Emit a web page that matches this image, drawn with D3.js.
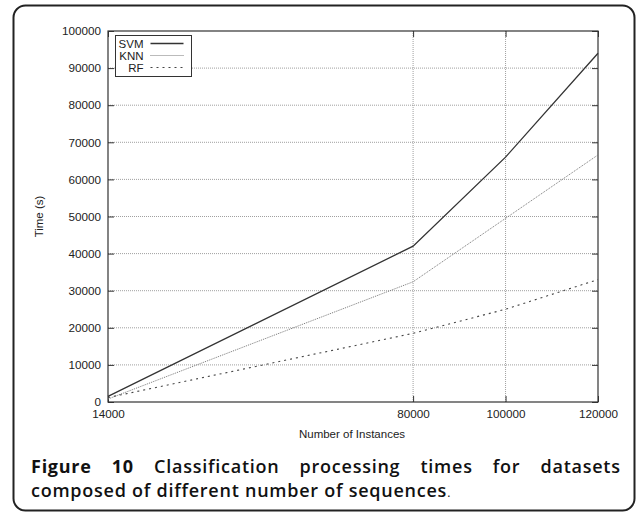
<!DOCTYPE html>
<html>
<head>
<meta charset="utf-8">
<script src="https://cdn.jsdelivr.net/npm/d3@7"></script>
<style>
  body { margin: 0; background: #fff; }
  svg { display: block; }
  .tick text { font-family: "Liberation Sans", Arial, sans-serif; font-size: 11.7px; fill: #222; }
</style>
</head>
<body>
<div id="chart"></div>
<script>
var instances = [14000, 80000, 100000, 120000];
var svmTimes = [1500, 42000, 66000, 94000];
var knnTimes = [800, 32400, 49500, 66600];
var rfTimes = [1200, 18500, 25000, 33000];
var yTicks = [0, 10000, 20000, 30000, 40000, 50000, 60000, 70000, 80000, 90000, 100000];

var svgWidth = 637;
var svgHeight = 514;

var margin = { top: 31, right: 39, bottom: 112, left: 108 };
var width = svgWidth - margin.left - margin.right;
var height = svgHeight - margin.top - margin.bottom;

var svg = d3.select("#chart")
    .append("svg")
    .attr("width", svgWidth)
    .attr("height", svgHeight);

// outer rounded frame
svg.append("rect")
    .attr("x", 13.5).attr("y", 5.5)
    .attr("width", 621).attr("height", 505)
    .attr("rx", 12).attr("ry", 12)
    .attr("fill", "none")
    .attr("stroke", "#222")
    .attr("stroke-width", 2);

var chartGroup = svg.append("g")
    .attr("transform", `translate(${margin.left}, ${margin.top})`);

var xScale = d3.scaleLinear().domain([14000, 120000]).range([0, width]);
var yScale = d3.scaleLinear().domain([0, 100000]).range([height, 0]);

// grid
chartGroup.selectAll(".hgrid")
    .data(yTicks.slice(1, -1))
    .enter().append("line")
    .attr("x1", 0).attr("x2", width)
    .attr("y1", d => yScale(d)).attr("y2", d => yScale(d))
    .attr("stroke", "#888").attr("stroke-width", 0.8)
    .attr("stroke-dasharray", "1,1");

chartGroup.selectAll(".vgrid")
    .data(instances.slice(1, -1))
    .enter().append("line")
    .attr("x1", d => xScale(d)).attr("x2", d => xScale(d))
    .attr("y1", 0).attr("y2", height)
    .attr("stroke", "#888").attr("stroke-width", 0.8)
    .attr("stroke-dasharray", "1,1");

// axes (gnuplot style: inward ticks mirrored on all sides)
var leftAxis = d3.axisLeft(yScale).tickValues(yTicks).tickSizeInner(-6).tickSizeOuter(0).tickPadding(7).tickFormat(d3.format("d"));
var rightAxis = d3.axisRight(yScale).tickValues(yTicks).tickSizeInner(-6).tickSizeOuter(0).tickFormat("");
var bottomAxis = d3.axisBottom(xScale).tickValues(instances).tickSizeInner(-6).tickSizeOuter(0).tickPadding(8).tickFormat(d3.format("d"));
var topAxis = d3.axisTop(xScale).tickValues(instances).tickSizeInner(-6).tickSizeOuter(0).tickFormat("");

chartGroup.append("g").call(leftAxis);
chartGroup.append("g").attr("transform", `translate(${width},0)`).call(rightAxis);
chartGroup.append("g").attr("transform", `translate(0,${height})`).call(bottomAxis);
chartGroup.append("g").call(topAxis);
chartGroup.selectAll(".domain").remove();
chartGroup.selectAll(".tick line").attr("stroke", "#333");

chartGroup.append("rect")
    .attr("width", width).attr("height", height)
    .attr("fill", "none").attr("stroke", "#333").attr("stroke-width", 1.2);

// series
var series = [
    { name: "SVM", values: svmTimes, color: "#333", width: 1.3, dash: null },
    { name: "KNN", values: knnTimes, color: "#777", width: 1, dash: "1,1" },
    { name: "RF", values: rfTimes, color: "#444", width: 1.1, dash: "2,4" }
];

var line = d3.line()
    .x((d, i) => xScale(instances[i]))
    .y(d => yScale(d));

chartGroup.selectAll(".series")
    .data(series)
    .enter().append("path")
    .attr("d", d => line(d.values))
    .attr("fill", "none")
    .attr("stroke", d => d.color)
    .attr("stroke-width", d => d.width)
    .attr("stroke-dasharray", d => d.dash);

// legend
var legend = chartGroup.append("g").attr("transform", "translate(7.5,4.5)");
legend.append("rect")
    .attr("width", 76).attr("height", 41)
    .attr("fill", "#fff").attr("stroke", "#333").attr("stroke-width", 1);

series.forEach(function(s, i) {
    var yy = 8 + i * 12;
    legend.append("text")
        .attr("x", 28).attr("y", yy + 4)
        .attr("text-anchor", "end")
        .attr("font-family", "Liberation Sans, Arial, sans-serif")
        .attr("font-size", 11.5)
        .attr("fill", "#222")
        .text(s.name);
    legend.append("line")
        .attr("x1", 35).attr("x2", 68)
        .attr("y1", yy).attr("y2", yy)
        .attr("stroke", s.color)
        .attr("stroke-width", s.width)
        .attr("stroke-dasharray", s.dash);
});

// axis titles
chartGroup.append("text")
    .attr("transform", `translate(${-69},${height / 2}) rotate(-90)`)
    .attr("text-anchor", "middle")
    .attr("dy", "0.35em")
    .attr("font-family", "Liberation Sans, Arial, sans-serif")
    .attr("font-size", 11.5)
    .attr("fill", "#222")
    .text("Time (s)");

chartGroup.append("text")
    .attr("x", 352 - margin.left).attr("y", height + 36)
    .attr("text-anchor", "middle")
    .attr("font-family", "Liberation Sans, Arial, sans-serif")
    .attr("font-size", 11.5)
    .attr("fill", "#222")
    .text("Number of Instances");

// caption, first line justified
var captionFont = "\"Open Sans\", \"Noto Sans\", sans-serif";
var capSpacing = 0.75;
var line1 = [
    { t: "Figure", w: 700 }, { t: "10", w: 700 }, { t: "Classification", w: 600 },
    { t: "processing", w: 600 }, { t: "times", w: 600 }, { t: "for", w: 600 }, { t: "datasets", w: 600 }
];
var capLeft = 31, capRight = 620;
var capSize = 18;
var cap1 = svg.append("g");
var widths = line1.map(function(wd) {
    var t = cap1.append("text")
        .attr("font-family", captionFont).attr("font-size", capSize)
        .attr("font-weight", wd.w).attr("fill", "#111")
        .attr("letter-spacing", capSpacing)
        .attr("y", 473).text(wd.t);
    wd.node = t;
    return t.node().getComputedTextLength() - capSpacing;
});
var gap = (capRight - capLeft - d3.sum(widths)) / (line1.length - 1);
var cx = capLeft;
line1.forEach(function(wd, i) {
    wd.node.attr("x", cx);
    cx += widths[i] + gap;
});

var cap2 = svg.append("text")
    .attr("x", capLeft).attr("y", 497)
    .attr("font-family", captionFont).attr("font-size", capSize)
    .attr("font-weight", 600).attr("fill", "#111")
    .attr("letter-spacing", capSpacing);
cap2.append("tspan").text("composed of different number of sequences");
cap2.append("tspan").attr("font-size", 12).attr("font-weight", 400).text(".");
</script>
</body>
</html>
